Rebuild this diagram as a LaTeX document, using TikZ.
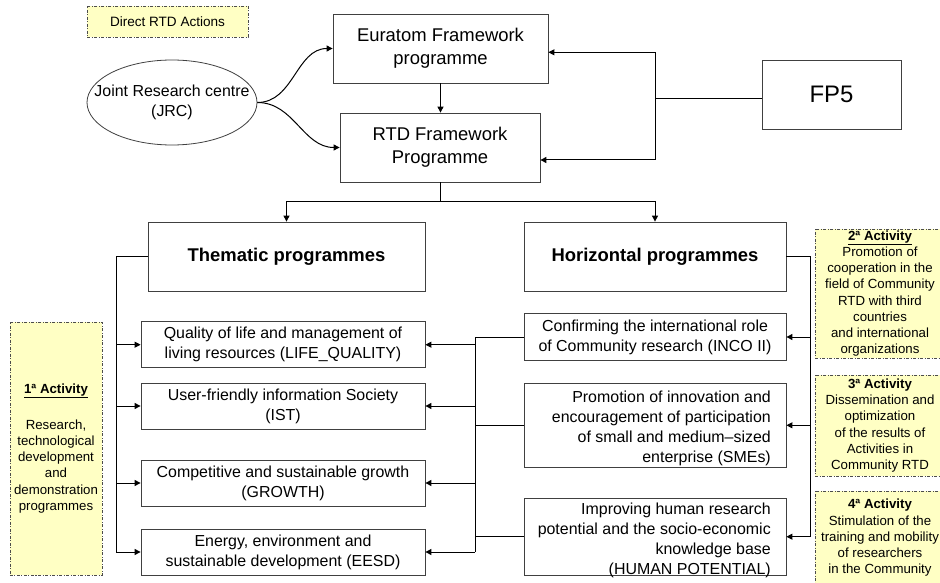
\documentclass[tikz,border=0pt]{standalone}
\usepackage{fontspec}
\setmainfont{Liberation Sans}
\usetikzlibrary{arrows.meta,shapes.geometric}
\definecolor{notefill}{HTML}{FFFFC4}
\newcommand\fsBox{\fontsize{16}{20}\selectfont}
\newcommand\fsHead{\fontsize{18.5}{23}\selectfont}
\newcommand\fsNote{\fontsize{13.3}{16.3}\selectfont}
\newcommand\fsJrc{\fontsize{16}{20}\selectfont}
\newcommand\fsFp{\fontsize{24}{28}\selectfont}
\newcommand\fsDirect{\fontsize{13.6}{16}\selectfont}
\begin{document}
\begin{tikzpicture}[x=1bp,y=-1bp,
  box/.style={draw=black!75,line width=0.8bp,fill=white,rectangle,inner sep=0pt,align=center},
  lbox/.style={box,font=\fsBox,minimum width=284bp,minimum height=46bp},
  notebox/.style={draw=black!70,line width=0.7bp,dash pattern=on 3bp off 1.5bp on 1bp off 1.5bp,fill=notefill,rectangle,inner sep=0pt,align=center,font=\fsNote},
  conn/.style={line width=1bp,draw=black},
  arr/.style={conn,-{Triangle[length=6bp,width=6bp]}},
  txt/.style={inner sep=0pt}
]
\useasboundingbox (0,0) rectangle (940,583);
\fill[white] (0,0) rectangle (940,583);
\clip (0,0) rectangle (940,583);

% top part
\node[notebox,font=\fsDirect,minimum width=161bp,minimum height=31bp] (direct) at (167.5,21.5) {Direct RTD Actions};
\node[box,font=\fsHead,minimum width=215bp,minimum height=69bp] (eur) at (440.5,48.5) {Euratom Framework\\programme};
\node[box,font=\fsHead,minimum width=200bp,minimum height=69bp] (rtd) at (440,147.5) {RTD Framework\\Programme};
\node[box,font=\fsFp,minimum width=139bp,minimum height=69bp] (fp5) at (831.5,94.5) {FP5};
\node[draw=black!75,line width=0.8bp,fill=white,ellipse,minimum width=170bp,minimum height=85bp,inner sep=0pt] (jrc) at (172,102.5) {};
\node[txt,font=\fsJrc,align=center] (jrctext) at (jrc.center) {Joint Research centre\\(JRC)};

% programme groups
\node[box,font=\fsHead\bfseries,minimum width=277bp,minimum height=69bp] (them) at (286.5,256.5) {Thematic programmes};
\node[box,font=\fsHead\bfseries,minimum width=262bp,minimum height=69bp] (hor) at (655,256.5) {Horizontal programmes};

% thematic programmes
\node[lbox] (life) at (283,344.7) {Quality of life and management of\\living resources (LIFE\_QUALITY)};
\node[lbox] (ist) at (283,406) {User-friendly information Society\\(IST)};
\node[lbox] (growth) at (283,483) {Competitive and sustainable growth\\(GROWTH)};
\node[lbox] (eesd) at (283,552) {Energy, environment and\\sustainable development (EESD)};

% horizontal programmes
\node[box,font=\fsBox,minimum width=262bp,minimum height=47bp] (inco) at (655,337) {Confirming the international role\\of Community research (INCO II)};
\node[box,minimum width=262bp,minimum height=84bp] (sme) at (655,425.3) {};
\node[txt,font=\fsBox,align=right,anchor=east] (smetext) at (771,428.5) {Promotion of innovation and\\encouragement of participation\\of small and medium–sized\\enterprise (SMEs)};
\node[box,minimum width=262bp,minimum height=77bp] (human) at (655,536.7) {};
\node[txt,font=\fsBox,align=right,anchor=east] (humantext) at (771,540) {Improving human research\\potential and the socio-economic\\knowledge base\\(HUMAN POTENTIAL)};

% activity notes
\node[notebox,minimum width=92bp,minimum height=253bp] (act1) at (56,448.5) {\underline{\textbf{1ª Activity}}\\[19.4bp]Research,\\technological\\development\\and\\demonstration\\programmes};
\node[notebox,minimum width=130bp,minimum height=129bp] (act2) at (880,293.5) {\underline{\textbf{2ª Activity}}\\Promotion of\\cooperation in the\\field of Community\\RTD with third\\countries\\and international\\organizations};
\node[notebox,minimum width=130bp,minimum height=101bp] (act3) at (880,425.5) {\textbf{3ª Activity}\\Dissemination and\\optimization\\of the results of\\Activities in\\Community RTD};
\node[notebox,minimum width=130bp,minimum height=94bp] (act4) at (880,538) {\textbf{4ª Activity}\\Stimulation of the\\training and mobility\\of researchers\\in the Community};

% connectors top
\draw[arr] (eur.south) -- (eur.south |- rtd.north);
\draw[arr] (jrc.east) to[out=0,in=180] (eur.west);
\draw[arr] (jrc.east) to[out=0,in=180] (rtd.west);

\coordinate (fpj) at (655,98.7);
\coordinate (fpt) at (655,52.3);
\coordinate (fpb) at (655,160);
\draw[conn] (fp5.west |- fpj) -- (fpj);
\draw[arr] (fpj) -- (fpt) -- (eur.east |- fpt);
\draw[arr] (fpj) -- (fpb) -- (rtd.east |- fpb);

\coordinate (rj) at (440,202);
\draw[conn] (rtd.south) -- (rj);
\draw[arr] (rj) -| (them.north);
\draw[arr] (rj) -| (hor.north);

% left bus
\coordinate (lbus) at (116,256.5);
\draw[conn] (them.west) -- (lbus) -- (lbus |- eesd.west);
\foreach \n in {life,ist,growth,eesd} \draw[arr] (lbus |- \n.west) -- (\n.west);

% right bus
\coordinate (rbus) at (810,256.5);
\draw[conn] (hor.east) -- (rbus) -- (rbus |- human.east);
\foreach \n in {inco,sme,human} \draw[arr] (rbus |- \n.east) -- (\n.east);

% middle bus
\coordinate (mbus) at (475,337);
\draw[conn] (inco.west) -- (mbus) -- (mbus |- eesd.east);
\draw[conn] (sme.west) -- (sme.west -| mbus);
\draw[conn] (human.west) -- (human.west -| mbus);
\foreach \n in {life,ist,growth,eesd} \draw[arr] (mbus |- \n.east) -- (\n.east);
\end{tikzpicture}
\end{document}
